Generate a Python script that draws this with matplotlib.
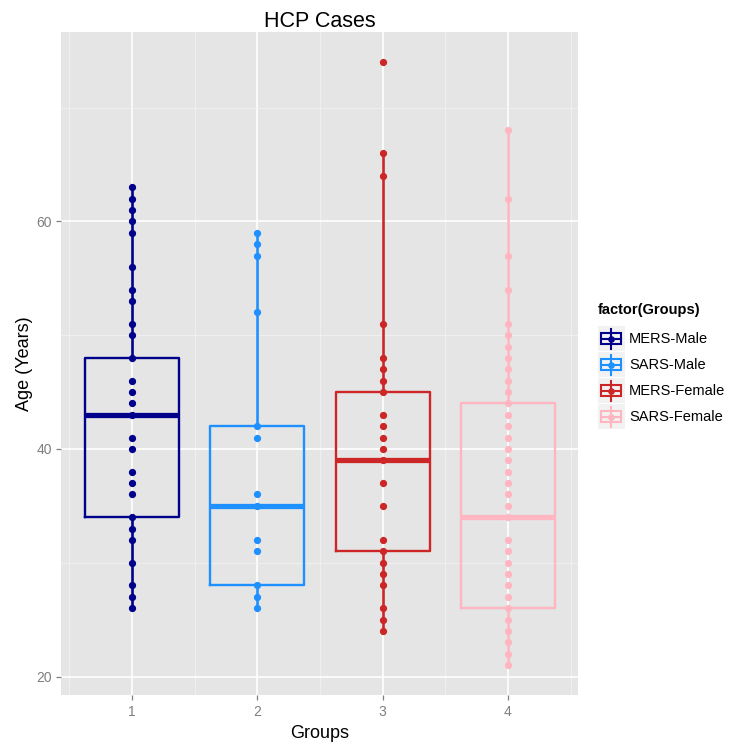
import matplotlib
matplotlib.use("Agg")
import matplotlib.pyplot as plt
from matplotlib.lines import Line2D
from matplotlib.patches import Rectangle
from matplotlib.legend_handler import HandlerBase

plt.rcParams['font.family'] = ['Liberation Sans', 'DejaVu Sans']

# group labels and colours
groups = [1, 2, 3, 4]
labels = ['MERS-Male', 'SARS-Male', 'MERS-Female', 'SARS-Female']
colors = ['#00008B', '#1E90FF', '#CD2626', '#FFB6C1']

# ages of the cases
ages_mers_male = [26, 27, 28, 30, 32, 33, 34, 36, 37, 38, 40, 41, 43, 44, 45, 46,
                  48, 50, 51, 53, 54, 56, 59, 60, 61, 62, 63]
ages_sars_male = [26, 27, 28, 31, 32, 35, 36, 41, 42, 52, 57, 58, 59]
ages_mers_female = [24, 25, 26, 28, 29, 30, 31, 32, 35, 37, 39, 40, 41, 42, 43,
                    45, 46, 47, 48, 51, 64, 66, 74]
ages_sars_female = [21, 22, 23, 24, 25, 26, 27, 28, 29, 30, 31, 32, 34, 35, 36,
                    37, 38, 39, 40, 41, 42, 43, 44, 45, 46, 47, 48, 49, 50, 51,
                    54, 57, 62, 68]
ages = [ages_mers_male, ages_sars_male, ages_mers_female, ages_sars_female]

# box statistics
whis_lo = [26, 26, 24, 21]
q1 = [34, 28, 31, 26]
median = [43, 35, 39, 34]
q3 = [48, 42, 45, 44]
whis_hi = [63, 59, 66, 68]


class BoxKey(HandlerBase):
    # small boxplot glyph on a grey key, ggplot style
    def create_artists(self, legend, orig_handle, xdescent, ydescent,
                       width, height, fontsize, trans):
        c = orig_handle.get_color()
        x0, y0 = -xdescent, -ydescent
        cx, cy = x0 + width / 2, y0 + height / 2
        bg = Rectangle((x0, y0), width, height, fc='#F2F2F2', ec='none',
                       transform=trans)
        wl = Line2D([cx, cx], [y0 + 2, y0 + height - 2], color=c, lw=1.5,
                    transform=trans)
        bx = Rectangle((x0 + 0.12 * width, y0 + 0.28 * height), 0.76 * width,
                       0.44 * height, fc='#F2F2F2', ec=c, lw=1.5,
                       transform=trans)
        md = Line2D([x0 + 0.12 * width, x0 + 0.88 * width], [cy, cy], color=c,
                    lw=1.5, transform=trans)
        dot = Line2D([cx], [cy], marker='o', ms=3.8, color=c, transform=trans)
        return [bg, bx, wl, md, dot]


fig = plt.figure(figsize=(7.3, 7.46), dpi=100)
ax = fig.add_axes([0.0842, 0.068, 0.7082, 0.889])
ax.set_facecolor('#E5E5E5')
for s in ax.spines.values():
    s.set_visible(False)

stats = []
for i in range(len(groups)):
    stats.append(dict(med=median[i], q1=q1[i], q3=q3[i],
                      whislo=whis_lo[i], whishi=whis_hi[i], fliers=[]))

for i, g in enumerate(groups):
    c = colors[i]
    # dots first so the median bar covers them, as in the original
    ax.plot([g] * len(ages[i]), ages[i], 'o', color=c, ms=4.2, zorder=1.5)
    ax.bxp([stats[i]], positions=[g], widths=0.75, showcaps=False,
           showfliers=False,
           boxprops=dict(color=c, lw=1.7),
           whiskerprops=dict(color=c, lw=1.9),
           medianprops=dict(color=c, lw=3.8, solid_capstyle='butt'))

ax.set_xlim(0.4375, 4.5625)
ax.set_ylim(18.35, 76.65)
ax.set_xticks(groups)
ax.set_xticklabels([str(g) for g in groups])
ax.set_xticks([0.5, 1.5, 2.5, 3.5, 4.5], minor=True)
ax.set_yticks([20, 40, 60])
ax.set_yticks([30, 50, 70], minor=True)
ax.set_axisbelow(True)
ax.grid(which='major', color='white', lw=1.2)
ax.grid(which='minor', color='#F2F2F2', lw=0.6)
ax.tick_params(which='minor', length=0)
ax.tick_params(which='major', length=3.5, width=0.9, color='#7F7F7F',
               labelcolor='#7F7F7F', labelsize=10)

ax.set_title('HCP Cases', fontsize=15.5, pad=4)
ax.set_xlabel('Groups', fontsize=13, labelpad=4)
ax.set_ylabel('Age (Years)', fontsize=13, labelpad=2)

handles = [Line2D([], [], color=c) for c in colors]
leg = fig.legend(handles, labels, handler_map={Line2D: BoxKey()},
                 title='factor(Groups)', loc='upper left',
                 bbox_to_anchor=(0.8067, 0.606), frameon=False, fontsize=10.5,
                 title_fontproperties={'weight': 'bold', 'size': 10.5},
                 alignment='left', handlelength=1.85, handleheight=2.26,
                 labelspacing=0.07, handletextpad=0.3, borderpad=0.6,
                 borderaxespad=0)
# a bit more room between the legend title and the keys
leg._legend_box.sep = 7

fig.savefig('out.png', dpi=100)
